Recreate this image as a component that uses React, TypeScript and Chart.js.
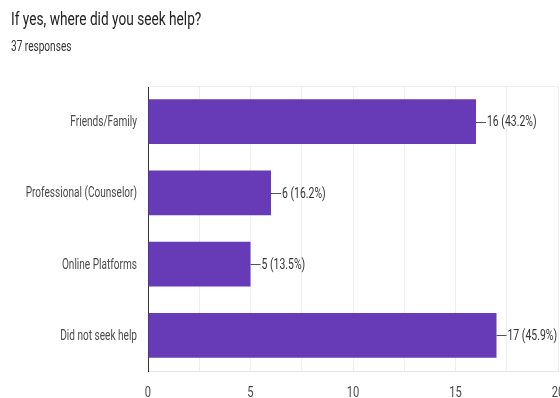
import React, { useEffect, useRef } from "react";
import { Chart, registerables } from "chart.js";

Chart.register(...registerables);

const titleText = "If yes, where did you seek help?";
const subtitleText = "37 responses";
const totalResponses = 37;
const categories = ["Friends/Family", "Professional (Counselor)", "Online Platforms", "Did not seek help"];
const counts = [16, 6, 5, 17];
const xTickLabels = [0, 5, 10, 15, 20];

const SX = 0.72;
const FONT = "Roboto, 'Noto Sans', Arial, sans-serif";

function drawScaledText(
  ctx: CanvasRenderingContext2D,
  text: string,
  x: number,
  y: number,
  align: "left" | "right" | "center",
  size: number,
  color: string,
  baseline: CanvasTextBaseline = "alphabetic"
) {
  ctx.save();
  ctx.font = `${size}px ${FONT}`;
  ctx.fillStyle = color;
  ctx.textBaseline = baseline;
  ctx.textAlign = "left";
  const w = ctx.measureText(text).width * SX;
  let x0 = x;
  if (align === "right") x0 = x - w;
  else if (align === "center") x0 = x - w / 2;
  ctx.translate(x0, y);
  ctx.scale(SX, 1);
  ctx.fillText(text, 0, 0);
  ctx.restore();
}

const textPlugin = {
  id: "textPlugin",
  afterDraw(chart: any) {
    const ctx: CanvasRenderingContext2D = chart.ctx;
    const area = chart.chartArea;
    const xs = chart.scales.x;
    const ys = chart.scales.y;

    // top border line
    ctx.save();
    ctx.strokeStyle = "#eeeeee";
    ctx.lineWidth = 1;
    ctx.beginPath();
    ctx.moveTo(area.left, Math.round(area.top) + 0.5);
    ctx.lineTo(area.right, Math.round(area.top) + 0.5);
    ctx.stroke();
    ctx.restore();

    drawScaledText(ctx, titleText, 11, 25, "left", 19, "#212121");
    drawScaledText(ctx, subtitleText, 11, 51, "left", 14, "#333333");

    categories.forEach((c, i) => {
      const y = ys.getPixelForValue(i);
      drawScaledText(ctx, c, 137, y + 1, "right", 14, "#4a4a4a", "middle");
    });

    xTickLabels.forEach((v) => {
      const x = xs.getPixelForValue(v);
      drawScaledText(ctx, String(v), x, 397, "center", 15.5, "#4a4a4a");
    });

    const meta = chart.getDatasetMeta(0);
    meta.data.forEach((bar: any, i: number) => {
      const xEnd = bar.x;
      const y = bar.y;
      ctx.save();
      ctx.strokeStyle = "#555555";
      ctx.lineWidth = 1;
      ctx.beginPath();
      ctx.moveTo(xEnd, Math.round(y) + 0.5);
      ctx.lineTo(xEnd + 10, Math.round(y) + 0.5);
      ctx.stroke();
      ctx.restore();
      const pct = ((counts[i] / totalResponses) * 100).toFixed(1);
      drawScaledText(ctx, `${counts[i]} (${pct}%)`, xEnd + 11, y + 1, "left", 14.5, "#333333", "middle");
    });
  },
};

export default function App() {
  const ref = useRef<HTMLCanvasElement | null>(null);

  useEffect(() => {
    document.body.style.margin = "0";
    const canvas = ref.current!;
    const chart = new Chart(canvas, {
      type: "bar",
      data: {
        labels: categories,
        datasets: [
          {
            data: counts,
            backgroundColor: "#673ab7",
            borderWidth: 0,
            barPercentage: 0.625,
            categoryPercentage: 1,
          },
        ],
      },
      options: {
        indexAxis: "y",
        animation: false,
        responsive: false,
        devicePixelRatio: 1,
        layout: { padding: { top: 86, right: 2, left: 0, bottom: 0 } },
        plugins: {
          legend: { display: false },
          tooltip: { enabled: false },
          title: { display: false },
        },
        scales: {
          x: {
            min: 0,
            max: 20,
            ticks: { display: false, stepSize: 2.5 },
            grid: { color: "#eeeeee", drawTicks: false },
            border: { color: "#e6e6e6" },
            afterFit: (scale: any) => {
              scale.height = 27;
            },
          },
          y: {
            ticks: { display: false },
            grid: { display: false, drawTicks: false },
            border: { color: "#333333", width: 1 },
            afterFit: (scale: any) => {
              scale.width = 148;
            },
          },
        },
      },
      plugins: [textPlugin],
    } as any);
    return () => chart.destroy();
  }, []);

  return (
    <div style={{ width: 560, height: 398, background: "#fff" }}>
      <canvas ref={ref} width={560} height={398} style={{ display: "block" }} />
    </div>
  );
}
